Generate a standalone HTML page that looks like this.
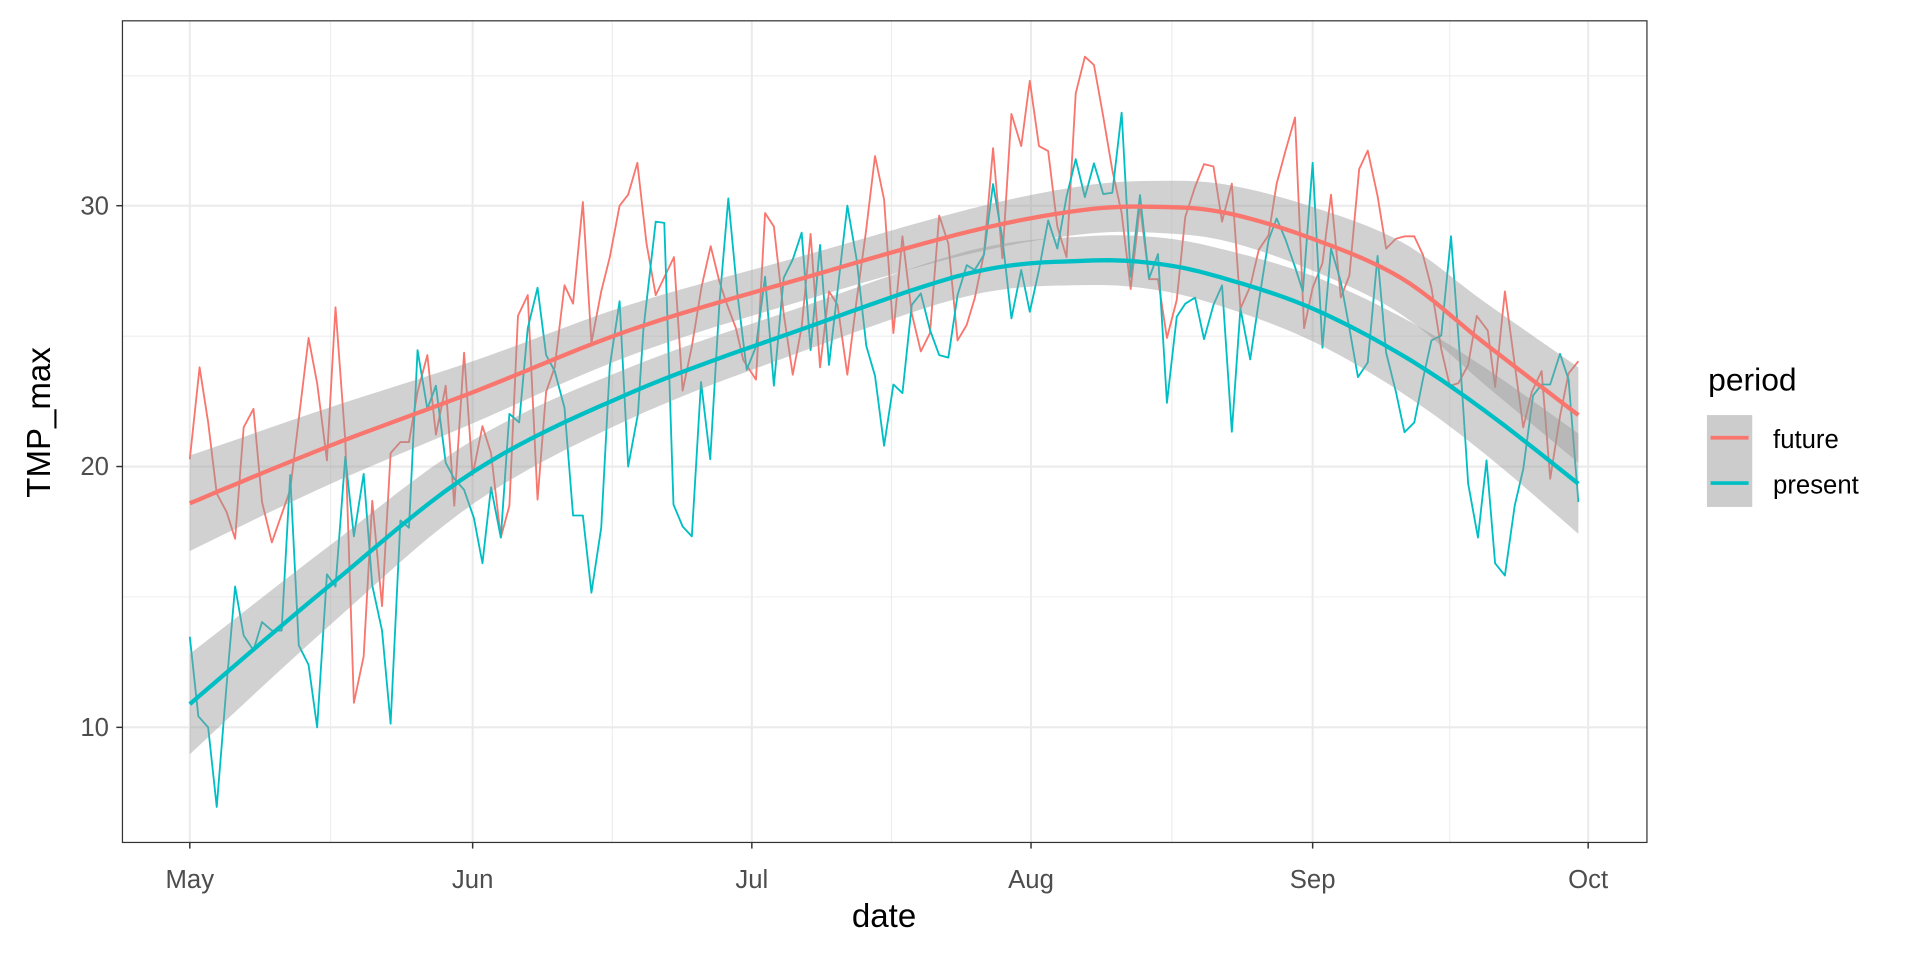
<!DOCTYPE html>
<html><head><meta charset="utf-8"><style>
html,body{margin:0;padding:0;background:#fff;}
svg{display:block;}
text{font-family:"Liberation Sans",Arial,sans-serif;}
</style></head><body>
<svg id="s" width="1920" height="960" viewBox="0 0 1568 784" preserveAspectRatio="none" xmlns="http://www.w3.org/2000/svg">
<rect x="0" y="0" width="1568" height="784" fill="#fff"/>
<g stroke="#ebebeb" stroke-width="0.8" fill="none">
<line x1="100" x2="1345" y1="62" y2="62"/><line x1="100" x2="1345" y1="274.5" y2="274.5"/><line x1="100" x2="1345" y1="487.5" y2="487.5"/>
<line y1="17" y2="688" x1="270" x2="270"/><line y1="17" y2="688" x1="500" x2="500"/><line y1="17" y2="688" x1="728" x2="728"/><line y1="17" y2="688" x1="957" x2="957"/><line y1="17" y2="688" x1="1184" x2="1184"/>
</g>
<g stroke="#ebebeb" stroke-width="1.7" fill="none">
<line x1="100" x2="1345" y1="168" y2="168"/><line x1="100" x2="1345" y1="381" y2="381"/><line x1="100" x2="1345" y1="594" y2="594"/>
<line y1="17" y2="688" x1="155" x2="155"/><line y1="17" y2="688" x1="386" x2="386"/><line y1="17" y2="688" x1="614" x2="614"/><line y1="17" y2="688" x1="842" x2="842"/><line y1="17" y2="688" x1="1072" x2="1072"/><line y1="17" y2="688" x1="1297" x2="1297"/>
</g>
<polyline id="rf" fill="none" stroke="#F8766D" stroke-width="1.5" stroke-linejoin="round"/>
<polyline id="rp" fill="none" stroke="#00BFC4" stroke-width="1.5" stroke-linejoin="round"/>
<path id="bf" fill="#999" fill-opacity="0.45"/>
<polyline id="sf" fill="none" stroke="#F8766D" stroke-width="3.5"/>
<path id="bp" fill="#999" fill-opacity="0.45"/>
<polyline id="sp" fill="none" stroke="#00BFC4" stroke-width="3.5"/>
<rect x="100" y="17" width="1245" height="671" fill="none" stroke="#333" stroke-width="1"/>
<g stroke="#333" stroke-width="1.2">
<line x1="95" x2="100" y1="168" y2="168"/><line x1="95" x2="100" y1="381" y2="381"/><line x1="95" x2="100" y1="594" y2="594"/>
<line y1="688" y2="693" x1="155" x2="155"/><line y1="688" y2="693" x1="386" x2="386"/><line y1="688" y2="693" x1="614" x2="614"/><line y1="688" y2="693" x1="842" x2="842"/><line y1="688" y2="693" x1="1072" x2="1072"/><line y1="688" y2="693" x1="1297" x2="1297"/>
</g>
<g fill="#4d4d4d" font-size="21" text-anchor="end">
<text x="89" y="175">30</text><text x="89" y="388">20</text><text x="89" y="601">10</text>
</g>
<g fill="#4d4d4d" font-size="21" text-anchor="middle">
<text x="155" y="725">May</text><text x="386" y="725">Jun</text><text x="614" y="725">Jul</text><text x="842" y="725">Aug</text><text x="1072" y="725">Sep</text><text x="1297" y="725">Oct</text>
</g>
<text x="722" y="757" font-size="27" text-anchor="middle" fill="#000">date</text>
<text transform="translate(41,345) rotate(-90)" font-size="27" text-anchor="middle" fill="#000">TMP_max</text>
<text x="1395" y="319" font-size="26" fill="#000">period</text>
<rect x="1394" y="339" width="37" height="75" fill="#cccccc"/>
<line x1="1397" x2="1428" y1="357.5" y2="357.5" stroke="#F8766D" stroke-width="3"/>
<line x1="1397" x2="1428" y1="394.5" y2="394.5" stroke="#00BFC4" stroke-width="3"/>
<text x="1448" y="366" font-size="21" fill="#000">future</text>
<text x="1448" y="403" font-size="21" fill="#000">present</text>
</svg>
<script>
var red=[[155,375],[163,300],[170,345],[177,403],[185,418],[192,440],[199,349],[207,334],[214,410],[222,443],[229,423],[237,400],[252,276],[259,313],[267,376],[274,251],[282,360],[289,574],[297,536],[304,409],[312,495],[319,370],[327,361],[334,361],[341,320],[349,290],[356,355],[364,315],[371,413],[379,288],[386,388],[394,348],[401,370],[409,439],[416,413],[423,258],[431,241],[439,408],[446,320],[453,300],[461,233],[468,248],[476,165],[483,280],[491,238],[498,210],[506,168],[513,159],[520.5,133],[528,199],[535.5,241],[550.4,210],[557.5,319],[565,283],[573,234],[580.4,201],[587.5,230],[593.5,248],[601,268],[607,294],[617.4,310],[624.8,174],[632,185],[640,256],[647.4,306],[654.7,267],[662,191],[669.7,300],[677,238],[684,249],[692,306],[699.6,245],[707,190.6],[714.6,127.4],[722,163],[729.6,272],[737,193],[744.6,256],[752,287],[759.5,272],[767,176],[774.5,199],[782,278],[789.4,265.5],[796,243.7],[803.6,207],[811,121],[818.6,211],[826,93],[834,119.3],[841,66],[848.5,119.3],[856,123.4],[863.5,185],[871,210],[878.5,76.3],[886,46.3],[893.4,53],[901,95.3],[908.4,139],[916,174],[923.4,236],[931,167.5],[938.4,228],[945.7,228],[953,276],[961,245],[968,177],[976,152.5],[983.3,134],[991,136],[998,181],[1006,150],[1013,252],[1021,234],[1028,204],[1036,192],[1042.6,150],[1050,122.5],[1057.6,96],[1065,268],[1072,235],[1080,215],[1087,159],[1095,243],[1102,225],[1110,138],[1117,123],[1125,160],[1132,203],[1140,195],[1147,193],[1155,193],[1162,208],[1169,235],[1177,285],[1184,315],[1191,313],[1199,298],[1206,258],[1215,270],[1221,316],[1229,238],[1236,290],[1244,349],[1251,320],[1259,303],[1266,391],[1274,340],[1281,305],[1289,295]];
var cy=[[155,520],[162,585],[170,594],[177,659],[185,560],[192,479],[199,519],[207,531],[214,508],[222,515],[230,515],[237,388],[244,527],[252,543],[259,594],[267,469],[274,479],[282,373],[289,438],[297,387],[304,478],[312,515],[319,591],[327,425],[334,431],[341,286],[349,334],[356,315],[364,378],[371,391],[379,400],[387,423],[394,460],[401,398],[409,439],[416,338],[424,345],[431,268],[439,235],[446,290],[453,303],[461,333],[468,421],[476,421],[483,484],[491,431],[498,299],[506,246],[513,381],[521,338],[525.4,269.5],[535.5,181],[542.5,182],[550,412],[557.5,430],[565,438],[572.5,312],[580,375],[587.5,248],[594.8,162],[602,238],[609.8,302],[617.4,283],[624.8,226],[632,315],[640,227],[647.4,212],[654.7,190],[662,286],[669.7,200],[677,298],[684.4,234],[692,168],[699.6,212],[707.5,282.6],[714.6,307],[722,364],[729.6,314],[737,321],[744.6,249],[752,239.6],[759.5,269.5],[767,290],[774.5,292],[782,241],[789.5,216.5],[796,220.5],[803.6,208],[811,150.3],[818.6,194.7],[826,260],[834,220.5],[841,254.6],[848.5,220.5],[856,180],[863.5,203],[871,160.7],[878.5,130],[886,161],[893.4,133.4],[901,158.5],[908.4,157.4],[916,92],[923.4,226],[931,159.3],[938.4,227.4],[945.7,207.5],[953,329],[961,258.7],[968,248],[976,243],[983.3,277],[991,249],[998,233],[1006,352.6],[1013,252],[1021,293.5],[1028,246.4],[1036,196],[1042.6,178.4],[1050,196],[1057.6,218],[1064,238],[1072,133],[1080,284],[1087,203],[1095,230],[1102,268],[1109,308],[1117,296],[1125,209],[1132,288],[1140,320],[1147,353],[1155,345],[1162,310],[1169,278],[1177,274],[1185,193],[1192,288],[1199,395],[1207,439],[1214,376],[1221,460],[1229,470],[1237,413],[1244,383],[1252,323],[1259,314],[1266,314],[1274,289],[1281,310],[1289,410]];
function pts(a){return a.map(function(p){return p[0]+','+p[1]}).join(' ');}
document.getElementById('rf').setAttribute('points',pts(red));
document.getElementById('rp').setAttribute('points',pts(cy));
var sr=[[155,411],[267,365],[387,320],[514.5,269.6],[653,228],[792,189],[884.7,171.5],[947,169],[1002,174],[1072,195],[1145,227.5],[1212,280],[1289,339]];
var sc=[[155,575],[267,480],[387,385],[514.5,321],[653,269.5],[792,223],[884.7,213],[947,215.6],[1002,228],[1072,252],[1145,290],[1212,335],[1289,395]];
function cr(a){
 var out=[];
 for(var i=0;i<a.length-1;i++){
  var p0=a[Math.max(0,i-1)],p1=a[i],p2=a[i+1],p3=a[Math.min(a.length-1,i+2)];
  for(var t=0;t<1;t+=0.1){
   var t2=t*t,t3=t2*t;
   var f=function(k){return 0.5*((2*p1[k])+(-p0[k]+p2[k])*t+(2*p0[k]-5*p1[k]+4*p2[k]-p3[k])*t2+(-p0[k]+3*p1[k]-3*p2[k]+p3[k])*t3);};
   out.push([f(0),f(1)]);
  }
 }
 out.push(a[a.length-1]);return out;
}
function band(a,id,extra){
 var d=cr(a),top=[],bot=[];
 d.forEach(function(p){var u=(p[0]-722)/567;var w=18+(21+extra)*u*u;top.push([p[0],p[1]-w]);bot.push([p[0],p[1]+w]);});
 bot.reverse();
 var all=top.concat(bot);
 document.getElementById(id).setAttribute('d','M'+all.map(function(p){return p[0].toFixed(1)+','+p[1].toFixed(1)}).join(' L')+' Z');
 return d;
}
var dr=band(sr,'bf',0),dc=band(sc,'bp',2);
document.getElementById('sf').setAttribute('points',pts(dr.map(function(p){return [p[0].toFixed(1),p[1].toFixed(1)]})));
document.getElementById('sp').setAttribute('points',pts(dc.map(function(p){return [p[0].toFixed(1),p[1].toFixed(1)]})));
</script>
</body></html>
